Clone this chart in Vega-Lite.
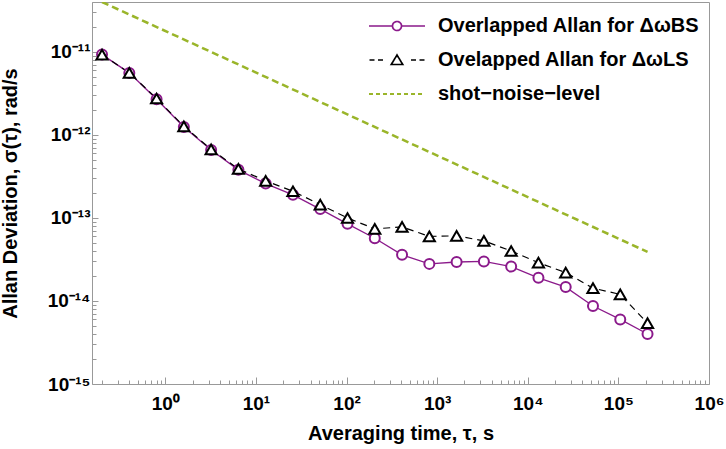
{
  "$schema": "https://vega.github.io/schema/vega-lite/v6.json",
  "width": 617,
  "height": 382,
  "autosize": {"type": "none"},
  "padding": {"left": 92, "top": 2, "right": 17, "bottom": 65},
  "background": "white",
  "config": {
    "view": {"stroke": "#999999", "strokeWidth": 1},
    "font": "Liberation Sans"
  },
  "data": {
    "values": [
      {"series": "BS", "tau": 0.2, "sigma": 9.3e-12},
      {"series": "BS", "tau": 0.4, "sigma": 5.6e-12},
      {"series": "BS", "tau": 0.8, "sigma": 2.7e-12},
      {"series": "BS", "tau": 1.6, "sigma": 1.25e-12},
      {"series": "BS", "tau": 3.2, "sigma": 6.6e-13},
      {"series": "BS", "tau": 6.4, "sigma": 3.8e-13},
      {"series": "BS", "tau": 12.8, "sigma": 2.6e-13},
      {"series": "BS", "tau": 25.6, "sigma": 1.9e-13},
      {"series": "BS", "tau": 51.2, "sigma": 1.28e-13},
      {"series": "BS", "tau": 102.4, "sigma": 8.5e-14},
      {"series": "BS", "tau": 204.8, "sigma": 5.7e-14},
      {"series": "BS", "tau": 409.6, "sigma": 3.6e-14},
      {"series": "BS", "tau": 819.2, "sigma": 2.8e-14},
      {"series": "BS", "tau": 1638.4, "sigma": 2.95e-14},
      {"series": "BS", "tau": 3276.8, "sigma": 3.0e-14},
      {"series": "BS", "tau": 6553.6, "sigma": 2.6e-14},
      {"series": "BS", "tau": 13107.2, "sigma": 1.9e-14},
      {"series": "BS", "tau": 26214.4, "sigma": 1.47e-14},
      {"series": "BS", "tau": 52428.8, "sigma": 8.7e-15},
      {"series": "BS", "tau": 104857.6, "sigma": 6.0e-15},
      {"series": "BS", "tau": 209715.2, "sigma": 4.0e-15},
      {"series": "LS", "tau": 0.2, "sigma": 9.3e-12},
      {"series": "LS", "tau": 0.4, "sigma": 5.6e-12},
      {"series": "LS", "tau": 0.8, "sigma": 2.75e-12},
      {"series": "LS", "tau": 1.6, "sigma": 1.27e-12},
      {"series": "LS", "tau": 3.2, "sigma": 6.7e-13},
      {"series": "LS", "tau": 6.4, "sigma": 3.9e-13},
      {"series": "LS", "tau": 12.8, "sigma": 2.8e-13},
      {"series": "LS", "tau": 25.6, "sigma": 2.1e-13},
      {"series": "LS", "tau": 51.2, "sigma": 1.45e-13},
      {"series": "LS", "tau": 102.4, "sigma": 1.0e-13},
      {"series": "LS", "tau": 204.8, "sigma": 7.4e-14},
      {"series": "LS", "tau": 409.6, "sigma": 7.8e-14},
      {"series": "LS", "tau": 819.2, "sigma": 6.0e-14},
      {"series": "LS", "tau": 1638.4, "sigma": 6.1e-14},
      {"series": "LS", "tau": 3276.8, "sigma": 5.3e-14},
      {"series": "LS", "tau": 6553.6, "sigma": 4.0e-14},
      {"series": "LS", "tau": 13107.2, "sigma": 2.9e-14},
      {"series": "LS", "tau": 26214.4, "sigma": 2.2e-14},
      {"series": "LS", "tau": 52428.8, "sigma": 1.43e-14},
      {"series": "LS", "tau": 104857.6, "sigma": 1.2e-14},
      {"series": "LS", "tau": 209715.2, "sigma": 5.4e-15},
      {"series": "shot", "tau": 0.2, "sigma": 4.0e-11},
      {"series": "shot", "tau": 209715.2, "sigma": 3.9e-14}
    ]
  },
  "encoding": {
    "x": {
      "field": "tau",
      "type": "quantitative",
      "scale": {"type": "log", "domain": [0.155, 1000000]},
      "axis": {
        "title": "Averaging time, τ, s",
        "titleFont": "Liberation Sans",
        "titleFontSize": 20,
        "titleFontWeight": "bold",
        "titleColor": "black",
        "titlePadding": 7,
        "values": [0.2, 0.3, 0.4, 0.5, 0.6, 0.7, 0.8, 0.9, 1, 2, 3, 4, 5, 6, 7, 8, 9, 10, 20, 30, 40, 50, 60, 70, 80, 90, 100, 200, 300, 400, 500, 600, 700, 800, 900, 1000, 2000, 3000, 4000, 5000, 6000, 7000, 8000, 9000, 10000, 20000, 30000, 40000, 50000, 60000, 70000, 80000, 90000, 100000, 200000, 300000, 400000, 500000, 600000, 700000, 800000, 900000, 1000000],
        "labelExpr": "abs(log(datum.value)/LN10 - round(log(datum.value)/LN10)) > 0.0001 ? '' : round(log(datum.value)/LN10) == 0 ? '10⁰' : round(log(datum.value)/LN10) == 1 ? '10¹' : round(log(datum.value)/LN10) == 2 ? '10²' : round(log(datum.value)/LN10) == 3 ? '10³' : round(log(datum.value)/LN10) == 4 ? '10⁴' : round(log(datum.value)/LN10) == 5 ? '10⁵' : round(log(datum.value)/LN10) == 6 ? '10⁶' : ''",
        "labelFont": "Liberation Sans",
        "labelFontSize": 19,
        "labelFontWeight": "bold",
        "labelColor": "black",
        "labelPadding": 17,
        "labelFlush": false,
        "labelOverlap": false,
        "grid": false,
        "domain": false,
        "tickColor": "#999999",
        "tickWidth": 1,
        "tickSize": {"condition": {"test": "abs(log(datum.value)/LN10 - round(log(datum.value)/LN10)) < 0.0001", "value": -7}, "value": -4}
      }
    },
    "y": {
      "field": "sigma",
      "type": "quantitative",
      "scale": {"type": "log", "domain": [1e-15, 4e-11]},
      "axis": {
        "title": "Allan Deviation, σ(τ), rad/s",
        "titleFont": "Liberation Sans",
        "titleFontSize": 20,
        "titleFontWeight": "bold",
        "titleColor": "black",
        "titlePadding": 27,
        "values": [1e-15, 2e-15, 3e-15, 4e-15, 5e-15, 6e-15, 7e-15, 8e-15, 9e-15, 1e-14, 2e-14, 3e-14, 4e-14, 5e-14, 6e-14, 7e-14, 8e-14, 9e-14, 1e-13, 2e-13, 3e-13, 4e-13, 5e-13, 6e-13, 7e-13, 8e-13, 9e-13, 1e-12, 2e-12, 3e-12, 4e-12, 5e-12, 6e-12, 7e-12, 8e-12, 9e-12, 1e-11, 2e-11, 3e-11, 4e-11],
        "labelExpr": "abs(log(datum.value)/LN10 - round(log(datum.value)/LN10)) > 0.0001 ? '' : round(log(datum.value)/LN10) == -11 ? '10⁻¹¹' : round(log(datum.value)/LN10) == -12 ? '10⁻¹²' : round(log(datum.value)/LN10) == -13 ? '10⁻¹³' : round(log(datum.value)/LN10) == -14 ? '10⁻¹⁴' : round(log(datum.value)/LN10) == -15 ? '10⁻¹⁵' : ''",
        "labelFont": "Liberation Sans",
        "labelFontSize": 19,
        "labelFontWeight": "bold",
        "labelColor": "black",
        "labelPadding": 8,
        "labelFlush": false,
        "labelOverlap": false,
        "grid": false,
        "domain": false,
        "tickColor": "#999999",
        "tickWidth": 1,
        "tickSize": {"condition": {"test": "abs(log(datum.value)/LN10 - round(log(datum.value)/LN10)) < 0.0001", "value": -6}, "value": -4}
      }
    },
    "color": {
      "field": "series",
      "type": "nominal",
      "scale": {"domain": ["BS", "LS", "shot"], "range": ["#8B1A8B", "#000000", "#9AB52A"]},
      "legend": {
        "orient": "none",
        "legendX": 295,
        "legendY": 14,
        "title": null,
        "padding": 0,
        "symbolSize": 100,
        "symbolStrokeWidth": 1.5,
        "labelOffset": 31,
        "labelFont": "Liberation Sans",
        "labelFontSize": 20,
        "labelFontWeight": "bold",
        "labelColor": "black",
        "labelLimit": 400,
        "rowPadding": 14,
        "labelExpr": "datum.value == 'BS' ? 'Overlapped Allan for ΔωBS' : datum.value == 'LS' ? 'Ovelapped Allan for ΔωLS' : 'shot−noise−level'",
        "encode": {
          "symbols": {
            "update": {
              "shape": {"signal": "datum.value == 'BS' ? 'M-5.6,0L-0.9,0M0.9,0L5.6,0M-0.9,0A0.9,0.9,0,1,1,0.9,0A0.9,0.9,0,1,1,-0.9,0Z' : datum.value == 'LS' ? 'M-5.5,0L-4.5,0M-3.8,0L-2.8,0M2.8,0L3.8,0M4.5,0L5.5,0M0,-1L1.15,0.9L-1.15,0.9Z' : 'M-5.6,0L-4.8,0M-4.2,0L-3.4,0M-2.8,0L-2,0M-1.4,0L-0.6,0M0,0L0.8,0M1.4,0L2.2,0M2.8,0L3.6,0M4.2,0L5,0'"},
              "fill": {"value": "white"},
              "fillOpacity": {"value": 1},
              "opacity": {"value": 1},
              "strokeWidth": {"signal": "datum.value == 'shot' ? 2.2 : 1.7"},
              "strokeDash": {"value": [1, 0]}
            }
          }
        }
      }
    }
  },
  "layer": [
    {
      "transform": [{"filter": "datum.series == 'BS'"}],
      "mark": {"type": "line", "clip": true, "strokeWidth": 1.3}
    },
    {
      "transform": [{"filter": "datum.series == 'LS'"}],
      "mark": {"type": "line", "clip": true, "strokeWidth": 1.2, "strokeDash": [7, 5]}
    },
    {
      "transform": [{"filter": "datum.series == 'BS'"}],
      "mark": {"type": "point", "shape": "circle", "size": 100, "filled": false, "fill": "white", "fillOpacity": 1, "strokeWidth": 2, "opacity": 1, "clip": true}
    },
    {
      "transform": [{"filter": "datum.series == 'LS'"}],
      "mark": {"type": "point", "shape": "triangle-up", "size": 125, "filled": false, "fill": "white", "fillOpacity": 1, "strokeWidth": 2, "opacity": 1, "clip": true}
    },
    {
      "transform": [{"filter": "datum.series == 'shot'"}],
      "mark": {"type": "line", "clip": true, "strokeWidth": 2.5, "strokeDash": [7, 4]}
    }
  ]
}
